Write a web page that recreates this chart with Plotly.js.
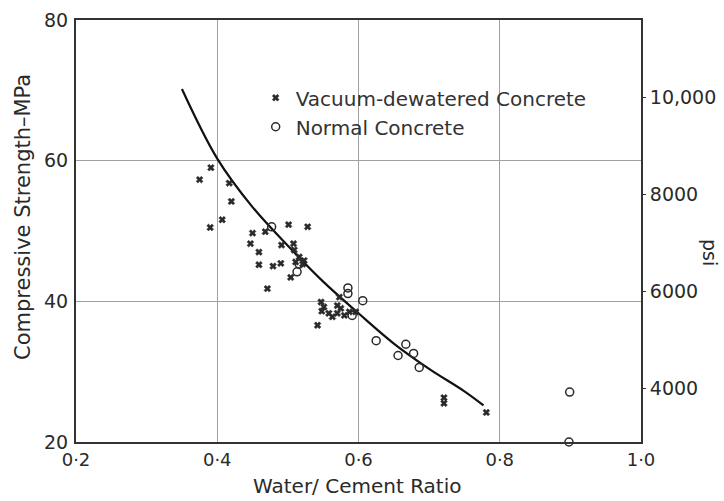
<!DOCTYPE html>
<html>
<head>
<meta charset="utf-8">
<script src="https://cdn.plot.ly/plotly-3.0.1.min.js"></script>
<style>html,body{margin:0;padding:0;background:#fff;}#chart{width:724px;height:501px;}</style>
</head>
<body>
<div id="chart"></div>
<script>
// Vacuum-dewatered concrete (x markers): water/cement ratio, strength MPa
const vacuumWC = [0.391,0.375,0.417,0.420,0.407,0.390,0.450,0.468,0.501,0.528,
  0.447,0.459,0.491,0.508,0.509,0.459,0.479,0.490,0.516,0.523,0.521,0.511,0.504,0.471,
  0.547,0.551,0.548,0.558,0.563,0.570,0.575,0.580,0.570,0.587,0.596,0.542,0.573,
  0.721,0.721,0.781];
const vacuumMPa = [59.0,57.3,56.8,54.2,51.6,50.5,49.7,49.9,50.9,50.6,
  48.2,47.0,48.0,48.2,47.3,45.2,45.0,45.4,46.3,45.8,45.3,45.6,43.4,41.8,
  39.9,39.2,38.6,38.3,37.8,39.4,39.0,38.0,38.3,38.5,38.5,36.6,40.6,
  26.3,25.5,24.2];
// Normal concrete (open circles)
const normalWC = [0.477,0.516,0.513,0.585,0.585,0.606,0.591,0.625,0.667,0.656,0.678,0.686,0.899,0.898];
const normalMPa = [50.6,45.3,44.2,41.9,41.1,40.1,38.0,34.4,33.9,32.3,32.6,30.6,27.1,20.0];
// Fitted curve
const curveWC = [0.350,0.400,0.450,0.500,0.550,0.600,0.650,0.700,0.750,0.777];
const curveMPa = [70.2,60.3,53.4,47.9,42.8,38.3,34.0,30.4,27.2,25.2];
// Axis ticks
const xTicks = [0.2,0.4,0.6,0.8,1.0];
const xTickText = ['0·2','0·4','0·6','0·8','1·0'];
const yTicks = [20,40,60,80];
const psiTicks = [4000,6000,8000,10000];
const psiTickText = ['4000','6000','8000','10,000'];
const MPA_PER_PSI = 0.00689476;

const font = 'DejaVu Sans, sans-serif';
const ink = '#2a2a2a';

const traces = [
  {x: curveWC, y: curveMPa, mode: 'lines', line: {color: '#111', width: 2.2, shape: 'spline'},
   showlegend: false, hoverinfo: 'skip'},
  {x: vacuumWC, y: vacuumMPa, mode: 'markers', name: 'Vacuum-dewatered Concrete',
   marker: {symbol: 'x', size: 6, color: ink, line: {width: 0.5, color: ink}}, cliponaxis: false},
  {x: normalWC, y: normalMPa, mode: 'markers', name: 'Normal Concrete',
   marker: {symbol: 'circle-open', size: 8, color: ink, line: {width: 1.5, color: ink}}, cliponaxis: false},
  // empty trace so the psi axis is drawn
  {x: [null], y: [null], yaxis: 'y2', mode: 'markers', showlegend: false, hoverinfo: 'skip'}
];

const layout = {
  width: 724, height: 501,
  margin: {l: 76, r: 83, t: 20, b: 59},
  paper_bgcolor: '#fff', plot_bgcolor: '#fff',
  font: {family: font, color: ink, size: 19},
  showlegend: true,
  legend: {x: 0.318, y: 0.862, xanchor: 'left', yanchor: 'top', bgcolor: 'rgba(0,0,0,0)',
           font: {size: 20, color: '#333'}, itemwidth: 30, tracegroupgap: 0},
  xaxis: {range: [0.2, 1.0], tickvals: xTicks, ticktext: xTickText, showgrid: true,
          gridcolor: '#a0a0a0', gridwidth: 1, zeroline: false, showline: true, linecolor: '#333',
          linewidth: 2, mirror: true, ticks: '', ticklabelstandoff: 0,
          tickfont: {size: 18}},
  yaxis: {range: [20, 80], tickvals: yTicks, showgrid: true, gridcolor: '#a0a0a0', gridwidth: 1,
          zeroline: false, showline: true, linecolor: '#333', linewidth: 2, ticks: '',
          tickfont: {size: 19}, ticklabelstandoff: 2},
  yaxis2: {overlaying: 'y', side: 'right', range: [20 / MPA_PER_PSI, 80 / MPA_PER_PSI],
           tickvals: psiTicks, ticktext: psiTickText, showgrid: false, zeroline: false,
           showline: true, linecolor: '#333', linewidth: 2, ticks: 'outside', ticklen: 3,
           tickcolor: '#333', tickfont: {size: 19}},
  annotations: [
    {text: 'Water/ Cement Ratio', xref: 'paper', yref: 'paper', x: 0.499, y: -0.104,
     xanchor: 'center', yanchor: 'middle', showarrow: false, font: {size: 20, color: ink}},
    {text: 'Compressive Strength–MPa', xref: 'paper', yref: 'paper', x: -0.094, y: 0.533,
     xanchor: 'center', yanchor: 'middle', showarrow: false, textangle: -90,
     font: {size: 21, color: ink}},
    {text: 'psi', xref: 'paper', yref: 'paper', x: 1.122, y: 0.448,
     xanchor: 'center', yanchor: 'middle', showarrow: false, textangle: 90,
     font: {size: 19, color: ink}}
  ]
};

Plotly.newPlot('chart', traces, layout, {displayModeBar: false, staticPlot: true});
</script>
</body>
</html>
